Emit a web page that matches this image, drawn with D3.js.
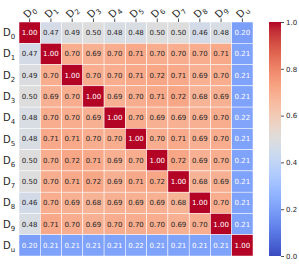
<!DOCTYPE html>
<html lang="en">
<head>
<meta charset="UTF-8">
<title>Correlation heatmap</title>
<style>
  body { margin: 0; background: #fff; }
  svg text { font-family: 'DejaVu Sans', sans-serif; }
</style>
<script src="https://d3js.org/d3.v7.min.js"></script>
</head>
<body>
<svg width="299" height="264"></svg>
<script>
const labels = ["0", "1", "2", "3", "4", "5", "6", "7", "8", "9", "u"];

const values = [
  [1.00, 0.47, 0.49, 0.50, 0.48, 0.48, 0.50, 0.50, 0.46, 0.48, 0.20],
  [0.47, 1.00, 0.70, 0.69, 0.70, 0.71, 0.70, 0.70, 0.70, 0.71, 0.21],
  [0.49, 0.70, 1.00, 0.70, 0.70, 0.71, 0.72, 0.71, 0.69, 0.70, 0.21],
  [0.50, 0.69, 0.70, 1.00, 0.69, 0.70, 0.71, 0.72, 0.68, 0.69, 0.21],
  [0.48, 0.70, 0.70, 0.69, 1.00, 0.70, 0.69, 0.69, 0.69, 0.70, 0.22],
  [0.48, 0.71, 0.71, 0.70, 0.70, 1.00, 0.70, 0.71, 0.69, 0.70, 0.21],
  [0.50, 0.70, 0.72, 0.71, 0.69, 0.70, 1.00, 0.72, 0.69, 0.70, 0.21],
  [0.50, 0.70, 0.71, 0.72, 0.69, 0.71, 0.72, 1.00, 0.68, 0.69, 0.21],
  [0.46, 0.70, 0.69, 0.68, 0.69, 0.69, 0.69, 0.68, 1.00, 0.70, 0.21],
  [0.48, 0.71, 0.70, 0.69, 0.70, 0.70, 0.70, 0.69, 0.70, 1.00, 0.21],
  [0.20, 0.21, 0.21, 0.21, 0.21, 0.22, 0.21, 0.21, 0.21, 0.21, 1.00]
];

const colorbarTicks = [0, 0.2, 0.4, 0.6, 0.8, 1.0];

// coolwarm (Moreland) anchor colours, evenly spaced 0..1
const coolwarm = [
  "#3b4cc0", "#445acc", "#4d68d7", "#5775e1", "#6282ea", "#6c8ef1", "#779af7", "#82a5fb",
  "#8db0fe", "#98b9ff", "#a3c2ff", "#aec9fd", "#b8d0f9", "#c2d5f4", "#ccd9ee", "#d5dbe6",
  "#dddddd", "#e5d8d1", "#ecd3c5", "#f1ccb8", "#f5c4ac", "#f7bb9f", "#f7b193", "#f7a686",
  "#f49a7b", "#f18d6f", "#ec7f63", "#e57059", "#de604e", "#d55045", "#cb3e3c", "#c02834",
  "#b40426"
];
const color = d3.scaleLinear()
  .domain(d3.range(coolwarm.length).map(i => i / (coolwarm.length - 1)))
  .range(coolwarm)
  .interpolate(d3.interpolateRgb)
  .clamp(true);

function textColor(c) {
  const rgb = d3.rgb(c);
  const lin = v => { v /= 255; return v <= 0.03928 ? v / 12.92 : Math.pow((v + 0.055) / 1.055, 2.4); };
  const lum = 0.2126 * lin(rgb.r) + 0.7152 * lin(rgb.g) + 0.0722 * lin(rgb.b);
  return lum > 0.408 ? "#262626" : "#ffffff";
}

const svg = d3.select("svg");
const mLeft = 19, mTop = 22, size = 234;

const x = d3.scaleBand().domain(labels).range([mLeft, mLeft + size]);
const y = d3.scaleBand().domain(labels).range([mTop, mTop + size]);

const cells = [];
values.forEach((row, i) => row.forEach((v, j) => cells.push({ r: labels[i], c: labels[j], v })));

svg.append("g").selectAll("rect")
  .data(cells)
  .enter().append("rect")
  .attr("x", d => x(d.c))
  .attr("y", d => y(d.r))
  .attr("width", x.bandwidth())
  .attr("height", y.bandwidth())
  .attr("fill", d => color(d.v))
  .attr("stroke", "white")
  .attr("stroke-width", 0.5);

svg.append("g").selectAll("text")
  .data(cells)
  .enter().append("text")
  .attr("x", d => x(d.c) + x.bandwidth() / 2)
  .attr("y", d => y(d.r) + y.bandwidth() / 2)
  .attr("dy", "0.35em")
  .attr("text-anchor", "middle")
  .style("font-size", "7px")
  .style("fill", d => textColor(color(d.v)))
  .text(d => d.v.toFixed(2));

// row labels
const rowLab = svg.append("g").selectAll("text")
  .data(labels)
  .enter().append("text")
  .attr("x", 3)
  .attr("y", d => y(d) + y.bandwidth() / 2)
  .attr("dy", "0.35em")
  .style("font-size", "10px")
  .style("fill", "#262626");
rowLab.append("tspan").text("D");
rowLab.append("tspan").attr("dy", "3").style("font-size", "7px").text(d => d);

// column ticks + rotated labels
svg.append("g").selectAll("line")
  .data(labels)
  .enter().append("line")
  .attr("x1", d => x(d) + x.bandwidth() / 2)
  .attr("x2", d => x(d) + x.bandwidth() / 2)
  .attr("y1", mTop - 3.5)
  .attr("y2", mTop)
  .attr("stroke", "#262626")
  .attr("stroke-width", 0.8);

const colLab = svg.append("g").selectAll("text")
  .data(labels)
  .enter().append("text")
  .attr("transform", d => `translate(${x(d) + x.bandwidth() / 2},${mTop - 10}) rotate(-45)`)
  .attr("text-anchor", "middle")
  .attr("dy", "0.3em")
  .style("font-size", "10px")
  .style("fill", "#262626");
colLab.append("tspan").text("D");
colLab.append("tspan").attr("dy", "3").style("font-size", "7px").text(d => d);

// colorbar
const cbX = 269, cbW = 12;
const cbY = d3.scaleLinear().domain([0, 1]).range([mTop + size, mTop]);
const defs = svg.append("defs");
const grad = defs.append("linearGradient")
  .attr("id", "cw")
  .attr("x1", 0).attr("y1", 1).attr("x2", 0).attr("y2", 0);
grad.selectAll("stop")
  .data(coolwarm)
  .enter().append("stop")
  .attr("offset", (d, i) => i / (coolwarm.length - 1))
  .attr("stop-color", d => d);

svg.append("rect")
  .attr("x", cbX)
  .attr("y", mTop)
  .attr("width", cbW)
  .attr("height", size)
  .attr("fill", "url(#cw)");

const cbAxis = svg.append("g")
  .attr("transform", `translate(${cbX + cbW},0)`)
  .call(d3.axisRight(cbY).tickValues(colorbarTicks).tickFormat(d3.format(".1f")).tickSize(3).tickPadding(2));
cbAxis.select(".domain").remove();
cbAxis.selectAll("line").attr("stroke", "#262626").attr("stroke-width", 0.8);
cbAxis.selectAll("text")
  .style("font-family", "'DejaVu Sans', sans-serif")
  .style("font-size", "7px")
  .style("fill", "#262626");
</script>
</body>
</html>
